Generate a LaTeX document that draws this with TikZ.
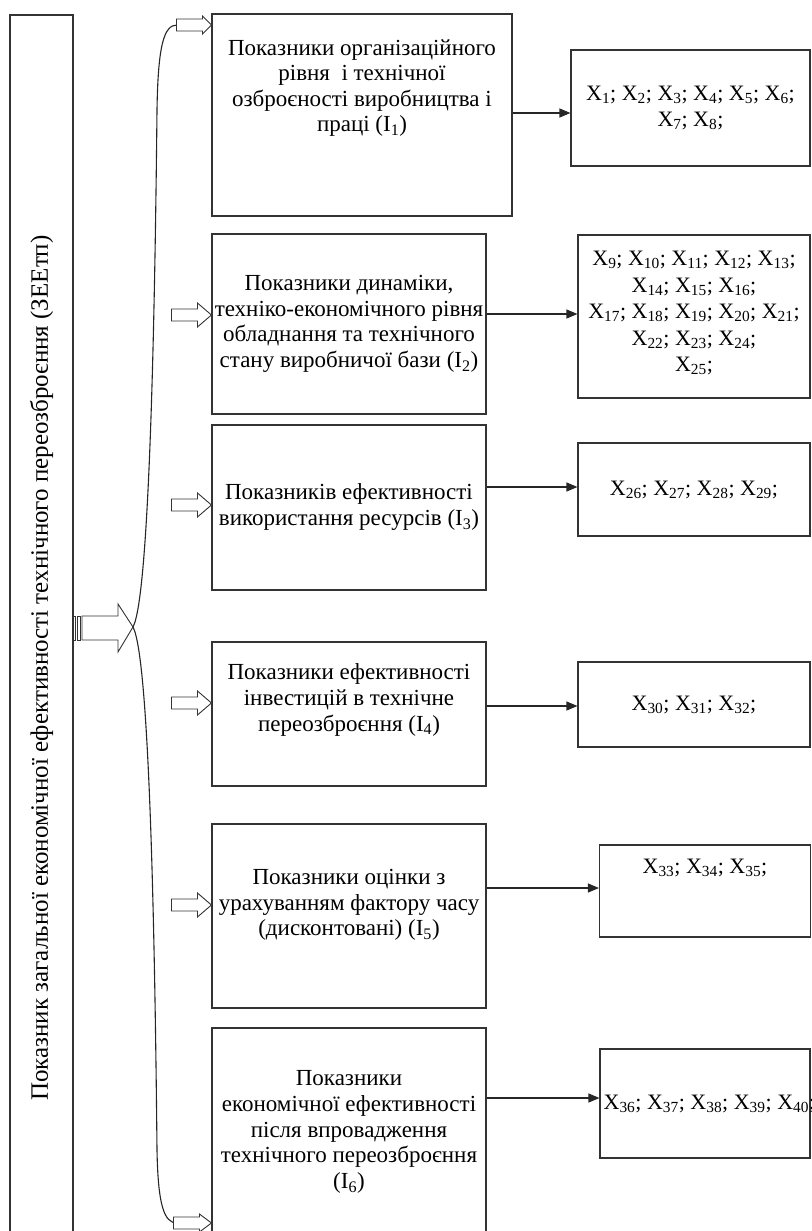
\documentclass[tikz,border=0pt]{standalone}
\usepackage{fontspec}
\setmainfont{Liberation Serif}
\usetikzlibrary{arrows.meta,positioning}

\newcommand{\xv}[1]{X\textsubscript{#1}}

\tikzset{
  box/.style={draw=black!80, line width=1.1pt, rectangle, inner sep=0pt},
  txt/.style={align=center, inner sep=0pt, font=\fontsize{23}{25.6}\selectfont},
  xtxt/.style={align=center, inner sep=0pt, font=\fontsize{22}{26.5}\selectfont},
  link/.style={draw=black!85, line width=1.1pt, -{Triangle[length=11pt, width=9pt]}},
  brace/.style={draw=black!85, line width=1.1pt},
  pics/hollow/.style args={#1/#2}{code={
    \draw[draw=black!80, line width=0.9pt, fill=white]
      (0,0) -- (-#2,-#1) -- (-#2,-6) -- (-#2-26,-6) -- (-#2-26,6) -- (-#2,6) -- (-#2,#1) -- cycle;
  }}
}

\begin{document}
\begin{tikzpicture}[x=1pt, y=-1pt]
  \useasboundingbox (0,0) rectangle (811,1231);
  \clip (0,0) rectangle (811,1231);

  % left box
  \node[box, minimum width=63, minimum height=1240] (main) at (41.5,635) {};
  \node[txt, rotate=90, font=\fontsize{25}{28}\selectfont] (maintxt) at (41.5,668) {Показник загальної економічної ефективності технічного переозброєння (ЗЕЕтп)};

  % middle boxes
  \node[box, minimum width=300, minimum height=202] (m1) at (362,115) {};
  \node[box, minimum width=274, minimum height=180] (m2) at (349,324) {};
  \node[box, minimum width=274, minimum height=165] (m3) at (349,507.5) {};
  \node[box, minimum width=274, minimum height=144] (m4) at (349,714) {};
  \node[box, minimum width=274, minimum height=184] (m5) at (349,916) {};
  \node[box, minimum width=274, minimum height=212] (m6) at (349,1134) {};

  \node[txt] (t1) at (362,88) {Показники організаційного\\рівня~ і технічної\\озброєності виробництва і\\праці (I\textsubscript{1})};
  \node[txt] (t2) at (349,324) {Показники динаміки,\\техніко-економічного рівня\\обладнання та технічного\\стану виробничої бази (I\textsubscript{2})};
  \node[txt] (t3) at (349,507) {Показників ефективності\\використання ресурсів (I\textsubscript{3})};
  \node[txt] (t4) at (349,700) {Показники ефективності\\інвестицій в технічне\\переозброєння (I\textsubscript{4})};
  \node[txt] (t5) at (349,905) {Показники оцінки з\\урахуванням фактору часу\\(дисконтовані) (I\textsubscript{5})};
  \node[txt] (t6) at (349,1132) {Показники\\економічної ефективності\\після впровадження\\технічного переозброєння\\(I\textsubscript{6})};

  % right boxes
  \node[box, minimum width=239, minimum height=116] (r1) at (690.5,108) {};
  \node[box, minimum width=232, minimum height=163] (r2) at (694,316.5) {};
  \node[box, minimum width=232, minimum height=93] (r3) at (694,489.5) {};
  \node[box, minimum width=232, minimum height=85] (r4) at (694,704.5) {};
  \node[box, minimum width=211, minimum height=92] (r5) at (705,891) {};
  \node[box, minimum width=210, minimum height=109] (r6) at (705,1103.5) {};

  \node[xtxt] at (r1) {\xv{1}; \xv{2}; \xv{3}; \xv{4}; \xv{5}; \xv{6};\\\xv{7}; \xv{8};};
  \node[xtxt] at (694,313) {\xv{9}; \xv{10}; \xv{11}; \xv{12}; \xv{13};\\\xv{14}; \xv{15}; \xv{16};\\\xv{17}; \xv{18}; \xv{19}; \xv{20}; \xv{21};\\\xv{22}; \xv{23}; \xv{24};\\\xv{25};};
  \node[xtxt] at (r3) {\xv{26}; \xv{27}; \xv{28}; \xv{29};};
  \node[xtxt] at (r4) {\xv{30}; \xv{31}; \xv{32};};
  \node[xtxt] at (705,868) {\xv{33}; \xv{34}; \xv{35};};
  \node[xtxt, anchor=west] at ([xshift=4pt]r6.west) {\xv{36}; \xv{37}; \xv{38}; \xv{39}; \xv{40};};

  % arrows to the right boxes
  \draw[link] (m1.east |- 0,113) -- (r1.west |- 0,113);
  \draw[link] (m2.east |- 0,314) -- (r2.west |- 0,314);
  \draw[link] (m3.east |- 0,487) -- (r3.west |- 0,487);
  \draw[link] (m4.east |- 0,706) -- (r4.west |- 0,706);
  \draw[link] (m5.east |- 0,888) -- (r5.west |- 0,888);
  \draw[link] (m6.east |- 0,1098) -- (r6.west |- 0,1098);

  % striped arrow
  \draw[draw=black!80, line width=0.9pt, fill=white] (73,616) rectangle (75.5,640);
  \draw[draw=black!80, line width=0.9pt, fill=white] (77.5,616) rectangle (80,640);
  \draw[draw=black!80, line width=0.9pt, fill=white] (82,616) -- (118,616) -- (118,604) -- (133,627)
    -- (118,652) -- (118,640) -- (82,640) -- cycle;

  % brace
  \coordinate (v) at (133,627);
  \draw[brace] (v) .. controls (150,595) and (155,300) .. (157,110) .. controls (158,45) and (164,25) .. (177,25);
  \draw[brace] (v) .. controls (150,659) and (155,950) .. (157,1150) .. controls (158,1205) and (164,1223) .. (177,1223);

  % hollow arrows
  \pic at (m1.west |- 0,25) {hollow=9/9};
  \pic at (m2.west |- 0,315) {hollow=12/14};
  \pic at (m3.west |- 0,505) {hollow=12/14};
  \pic at (m4.west |- 0,703) {hollow=12/14};
  \pic at (m5.west |- 0,905) {hollow=12/14};
  \pic at (m6.west |- 0,1223) {hollow=9/12};
\end{tikzpicture}
\end{document}
